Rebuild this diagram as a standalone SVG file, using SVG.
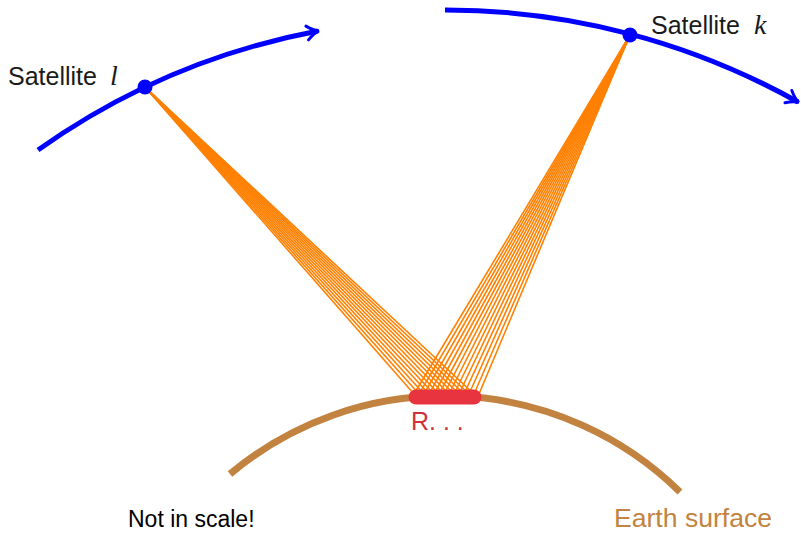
<svg xmlns="http://www.w3.org/2000/svg" width="801" height="534" viewBox="0 0 801 534">
<style>
.orbit{fill:none;stroke:#0000ff;stroke-width:5}
.beam line{stroke:#ff8000;stroke-width:1.6}
.sat{fill:#0000ff}
.lbl{font-family:"Liberation Sans",Arial,sans-serif;font-size:25px;fill:#1a1a1a}
.math{font-family:"Liberation Serif",serif;font-style:italic;font-size:28px}
</style>
<defs>
<marker id="arr" markerUnits="userSpaceOnUse" markerWidth="30" markerHeight="30" viewBox="-15 -15 30 30" refX="0" refY="0" orient="auto">
<path d="M-11,-7 Q-4,-1 1,0 Q-4,1 -11,7" fill="none" stroke="#0000ff" stroke-width="3" stroke-linecap="round"/>
</marker>
</defs>
<rect width="801" height="534" fill="#fff"/>
<g id="earth">
<path d="M230,474 A335,335 0 0 1 680,492" fill="none" stroke="#c28340" stroke-width="7"/>
<text x="614" y="527" font-family="Liberation Sans,Arial,sans-serif" font-size="25" fill="#c28340" textLength="158" lengthAdjust="spacingAndGlyphs">Earth surface</text>
</g>
<g id="connectors" class="beam">
<line x1="145" y1="87" x2="414" y2="394"/>
<line x1="145" y1="87" x2="419" y2="394"/>
<line x1="145" y1="87" x2="424" y2="394"/>
<line x1="145" y1="87" x2="429" y2="394"/>
<line x1="145" y1="87" x2="434" y2="394"/>
<line x1="145" y1="87" x2="439" y2="394"/>
<line x1="145" y1="87" x2="444" y2="394"/>
<line x1="145" y1="87" x2="449" y2="394"/>
<line x1="145" y1="87" x2="454" y2="394"/>
<line x1="145" y1="87" x2="459" y2="394"/>
<line x1="145" y1="87" x2="464" y2="394"/>
<line x1="145" y1="87" x2="469" y2="394"/>
<line x1="145" y1="87" x2="474" y2="394"/>
<line x1="630" y1="35" x2="414" y2="394"/>
<line x1="630" y1="35" x2="419" y2="394"/>
<line x1="630" y1="35" x2="424" y2="394"/>
<line x1="630" y1="35" x2="429" y2="394"/>
<line x1="630" y1="35" x2="434" y2="394"/>
<line x1="630" y1="35" x2="439" y2="394"/>
<line x1="630" y1="35" x2="444" y2="394"/>
<line x1="630" y1="35" x2="449" y2="394"/>
<line x1="630" y1="35" x2="454" y2="394"/>
<line x1="630" y1="35" x2="459" y2="394"/>
<line x1="630" y1="35" x2="464" y2="394"/>
<line x1="630" y1="35" x2="469" y2="394"/>
<line x1="630" y1="35" x2="474" y2="394"/>
<line x1="630" y1="35" x2="479" y2="394"/>
</g>
<g id="receiver">
<line x1="416" y1="397" x2="474" y2="397" stroke="#e8343f" stroke-width="15" stroke-linecap="round"/>
<text x="411" y="430" font-family="Liberation Sans,Arial,sans-serif" font-size="25" fill="#d0303a">R. . .</text>
</g>
<g id="satellite-l">
<path class="orbit" d="M38,150 A710,710 0 0 1 318,31" marker-end="url(#arr)"/>
<circle class="sat" cx="145" cy="87" r="7.5"/>
<text class="lbl" x="8" y="85">Satellite<tspan class="math" dx="13">l</tspan></text>
</g>
<g id="satellite-k">
<path class="orbit" d="M445,10 A721,721 0 0 1 798,102" marker-end="url(#arr)"/>
<circle class="sat" cx="630" cy="35" r="7.5"/>
<text class="lbl" x="651" y="34">Satellite<tspan class="math" dx="14">k</tspan></text>
</g>
<g id="note">
<text x="128" y="527" font-family="Liberation Sans,Arial,sans-serif" font-size="23" fill="#000">Not in scale!</text>
</g>
</svg>
